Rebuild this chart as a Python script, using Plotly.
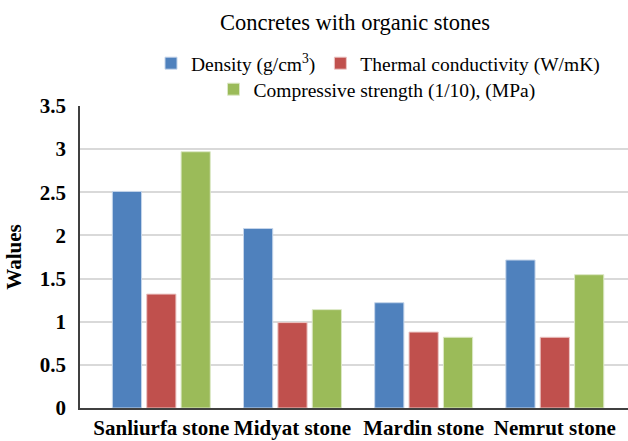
import plotly.graph_objects as go

categories = ["Sanliurfa stone", "Midyat stone", "Mardin stone", "Nemrut stone"]
density = [2.51, 2.08, 1.22, 1.715]
thermal = [1.32, 0.99, 0.88, 0.82]
compressive = [2.97, 1.14, 0.82, 1.545]
y_ticks = [0, 0.5, 1, 1.5, 2, 2.5, 3, 3.5]
y_tick_labels = ["0", "0.5", "1", "1.5", "2", "2.5", "3", "3.5"]

serif = "Liberation Serif, Times New Roman, serif"
W, H = 628, 441

fig = go.Figure()
fig.add_trace(go.Bar(name="Density (g/cm<sup>3</sup>)", x=categories, y=density,
                     marker=dict(color="#4F81BD", line=dict(color="#C5D5EA", width=1)),
                     legend="legend"))
fig.add_trace(go.Bar(name="Thermal conductivity (W/mK)", x=categories, y=thermal,
                     marker=dict(color="#C0504D", line=dict(color="#EBC5C4", width=1)),
                     legend="legend"))
fig.add_trace(go.Bar(name="Compressive strength (1/10), (MPa)", x=categories, y=compressive,
                     marker=dict(color="#9BBB59", line=dict(color="#DCE8C6", width=1)),
                     legend="legend2"))

fig.update_layout(
    width=W, height=H,
    margin=dict(l=80, r=0, t=106, b=33, autoexpand=False),
    paper_bgcolor="white", plot_bgcolor="white",
    barmode="group", bargap=0.214, bargroupgap=0.15,
    font=dict(family=serif, color="#000000"),
    title=dict(text="Concretes with organic stones", x=355 / W, xref="container", xanchor="center",
               y=1 - 22 / H, yref="container", yanchor="middle",
               font=dict(family=serif, size=22.5, color="#000000")),
    legend=dict(orientation="h", x=378 / W, xanchor="center", xref="container",
                y=1 - 63.5 / H, yref="container", yanchor="middle",
                font=dict(family=serif, size=19.5, color="#000000"),
                bgcolor="rgba(0,0,0,0)", itemwidth=30, tracegroupgap=0),
    legend2=dict(orientation="h", x=377 / W, xanchor="center", xref="container",
                 y=1 - 89.5 / H, yref="container", yanchor="middle",
                 font=dict(family=serif, size=19.5, color="#000000"),
                 bgcolor="rgba(0,0,0,0)", itemwidth=30),
    xaxis=dict(range=[-0.62, 3.558], showgrid=False, showline=True, linecolor="#404040",
               linewidth=2, ticks="", automargin=False, tickangle=0,
               tickfont=dict(family=serif, size=21, color="#000000", weight="bold")),
    yaxis=dict(range=[0, 3.5], tickvals=y_ticks, ticktext=y_tick_labels,
               showgrid=True, gridcolor="#D9D9D9", gridwidth=1.5,
               showline=True, linecolor="#404040", linewidth=1.5, zeroline=False,
               ticks="", ticklabelstandoff=8, automargin=False,
               tickfont=dict(family=serif, size=21, color="#000000", weight="bold"),
               title=dict(text="Walues", standoff=12,
                          font=dict(family=serif, size=21, color="#000000", weight="bold"))),
)

fig.write_html("out.html", config={"displayModeBar": False},
               post_script="document.body.style.margin='0';"
                           "document.body.style.overflow='hidden';"
                           "document.documentElement.style.overflow='hidden';")
